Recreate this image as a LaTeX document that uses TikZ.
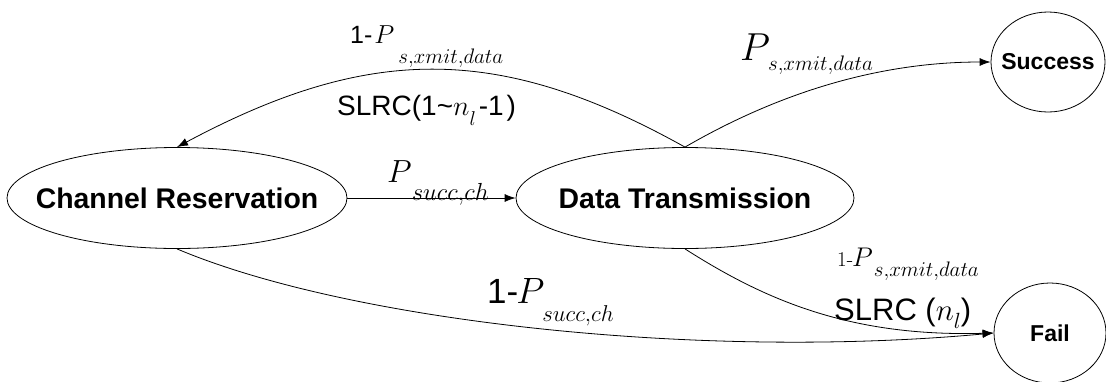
\RequirePackage{fix-cm}
\documentclass[tikz,border=0pt]{standalone}
\usepackage{fontspec}
\newfontfamily\arial{Liberation Sans}
\usetikzlibrary{shapes.geometric,arrows.meta}
% P with a lowered subscript: P size, subscript size, kern, drop, subscript
\newcommand\Pterm[5]{{\fontsize{#1}{#1}\selectfont$P$}\kern#3\raisebox{-#4}{\fontsize{#2}{#2}\selectfont$#5$}}
% n with a lowered subscript l: subscript size, drop
\newcommand\nlow[2]{$n$\raisebox{-#2}{\fontsize{#1}{#1}\selectfont$l$}}
\begin{document}
\begin{tikzpicture}[x=1pt,y=-1pt,
  state/.style={draw, ellipse, line width=0.8pt, inner sep=0pt},
  bigstate/.style={state, font=\arial\bfseries\fontsize{28.4}{30}\selectfont},
  endstate/.style={state, font=\arial\bfseries\fontsize{23}{26}\selectfont},
  edge/.style={line width=0.8pt, -{Latex[length=11pt,width=8pt]}},
  lbl/.style={inner sep=0pt, anchor=base west}]
\useasboundingbox (0,0) rectangle (1106,381);

% states
\node[bigstate, minimum width=340pt, minimum height=101pt] (cr) at (177,198) {\makebox[0pt]{Channel Reservation}};
\node[bigstate, minimum width=338pt, minimum height=101pt] (dt) at (685,198) {\makebox[0pt]{Data Transmission}};
\node[endstate, minimum width=114pt, minimum height=100pt] (succ) at (1048,62) {\makebox[0pt]{Success}};
\node[endstate, minimum width=112pt, minimum height=100pt] (fail) at (1050,333) {\makebox[0pt]{Fail}};

% transitions
\draw[edge] (cr.east) -- (dt.west);
\draw[edge] (dt.north) .. controls (500,44) and (370,44) .. (cr.north);
\draw[edge] (dt.north) .. controls (780,92) and (880,62) .. (succ.west);
\draw[edge] (dt.south) .. controls (765,300) and (850,337) .. (fail.west);
\draw[edge] (cr.south) .. controls (350,322) and (700,360) .. (fail.west);

% transition labels
\node[lbl] (l1) at (350,43.3)
  {\arial\fontsize{25}{25}\selectfont 1-\kern2pt\Pterm{26}{21}{4pt}{20pt}{s{,}xmit{,}data}};
\node[lbl] (l2) at (337,115)
  {\arial\fontsize{28}{28}\selectfont SLRC(1\char`~\nlow{20}{10pt}\kern3pt-1\kern3pt)};
\node[lbl] (l3) at (740,60)
  {\Pterm{39}{21}{-2pt}{10pt}{s{,}xmit{,}data}};
\node[lbl] (l4) at (387,182)
  {\Pterm{32}{24.7}{0pt}{18pt}{succ{,}ch}};
\node[lbl] (l5) at (487,303.3)
  {\arial\fontsize{35}{35}\selectfont 1-\kern-2pt\Pterm{36.6}{22.9}{-2pt}{18pt}{succ{,}ch}};
\node[lbl] (l6) at (837,266.7)
  {\fontsize{21}{21}\selectfont 1-\kern-1pt\Pterm{27}{21}{1pt}{10pt}{s{,}xmit{,}data}};
\node[lbl] (l7) at (834,320)
  {\arial\fontsize{31}{31}\selectfont SLRC (\nlow{22}{8pt})};
\end{tikzpicture}
\end{document}
